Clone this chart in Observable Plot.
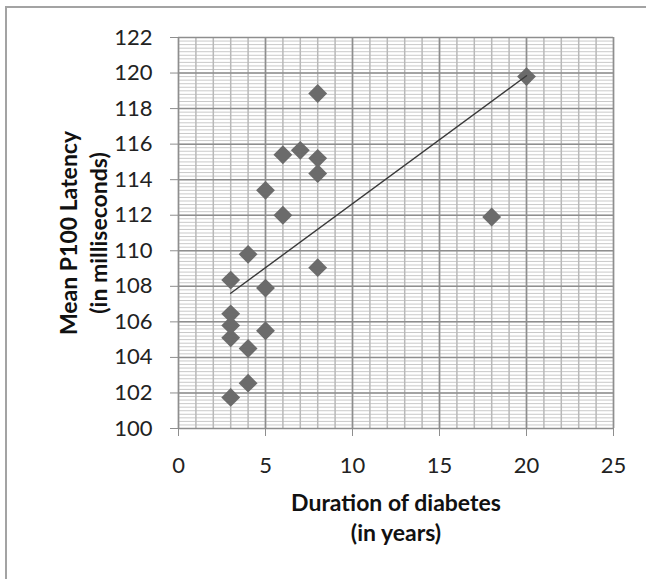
<!DOCTYPE html>
<html><head><meta charset="utf-8">
<script src="https://cdn.jsdelivr.net/npm/d3@7"></script>
<script src="https://cdn.jsdelivr.net/npm/@observablehq/plot@0.6"></script>
<style>
html,body{margin:0;padding:0;background:#fff;}
#wrap{position:relative;width:646px;height:579px;overflow:hidden;}
#border{position:absolute;left:5px;top:6px;width:700px;height:700px;border-left:2px solid #a3a3a3;border-top:2px solid #a3a3a3;}
#chart{position:absolute;left:0;top:0;}
</style></head><body>
<div id="wrap"><div id="border"></div><div id="chart"></div></div>
<script>
// Data
const duration = [3, 3, 3, 3, 3, 4, 4, 4, 5, 5, 5, 6, 6, 7, 8, 8, 8, 8, 18, 20];
const latency  = [101.75, 105.1, 105.8, 106.45, 108.35, 102.55, 104.5, 109.8, 105.5, 107.9, 113.4, 112.0, 115.4, 115.65, 109.05, 114.35, 115.2, 118.85, 111.9, 119.8];
const xTicks = [0, 5, 10, 15, 20, 25];
const yTicks = [100, 102, 104, 106, 108, 110, 112, 114, 116, 118, 120, 122];
const xMinorTicks = d3.range(0, 26, 1);
const yMinorTicks = d3.range(0, 111).map(i => 100 + i * 0.2);
const xLabel = "Duration of diabetes\n(in years)";
const yLabel = "Mean P100 Latency\n(in milliseconds)";

const data = duration.map((d, i) => ({duration: d, latency: latency[i]}));

const chart = Plot.plot({
  width: 646, height: 579,
  marginLeft: 178, marginRight: 33, marginTop: 37, marginBottom: 151,
  x: {domain: [0, 25]},
  y: {domain: [100, 122]},
  style: {fontFamily: "Lato, 'Open Sans', sans-serif", fontSize: "22px", color: "#222", background: "transparent"},
  marks: [
    Plot.gridY(yMinorTicks, {stroke: "#c9c9c9", strokeOpacity: 1, strokeWidth: 1}),
    Plot.gridX(xMinorTicks, {stroke: "#b9b9b9", strokeOpacity: 1, strokeWidth: 1.5}),
    Plot.gridY(yTicks, {stroke: "#8e8e8e", strokeOpacity: 1, strokeWidth: 1.5}),
    Plot.gridX(xTicks, {stroke: "#8e8e8e", strokeOpacity: 1, strokeWidth: 1.5}),
    Plot.axisY(yTicks, {tickSize: 8, tickPadding: 18, stroke: "#8e8e8e", label: null, fill: "#222", fontSize: 22}),
    Plot.axisX(xTicks, {tickSize: 8, tickPadding: 21, stroke: "#8e8e8e", label: null, fill: "#222", fontSize: 22}),
    Plot.dot(data, {x: "duration", y: "latency", symbol: "diamond2", r: 8.5, fill: "#6b6b6b", stroke: "none"}),
    Plot.linearRegressionY(data, {x: "duration", y: "latency", ci: 0, stroke: "#3a3a3a", strokeWidth: 1.4}),
    Plot.text([xLabel], {text: d => d, frameAnchor: "bottom", lineAnchor: "middle", textAnchor: "middle", dy: 88, fontWeight: "bold", fontSize: 23, lineHeight: 1.3, fill: "#111"}),
    Plot.text([yLabel], {text: d => d, frameAnchor: "left", lineAnchor: "middle", textAnchor: "middle", rotate: -90, dx: -96, fontWeight: "bold", fontSize: 23, lineHeight: 1.3, fill: "#111"})
  ]
});
document.getElementById("chart").appendChild(chart);
</script>
</body></html>
